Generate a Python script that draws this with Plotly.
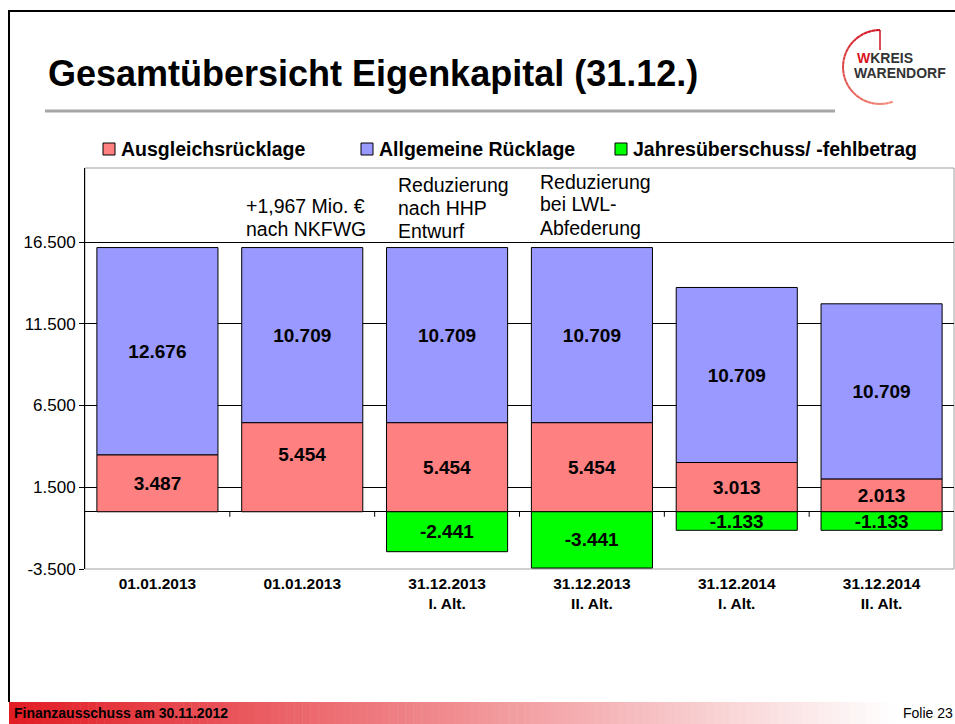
import math
import plotly.graph_objects as go

# ---------------- data ----------------
categories = ["01.01.2013", "01.01.2013", "31.12.2013<br>I. Alt.", "31.12.2013<br>II. Alt.",
              "31.12.2014<br>I. Alt.", "31.12.2014<br>II. Alt."]
ausgleichsruecklage = [3487, 5454, 5454, 5454, 3013, 2013]
allgemeine_ruecklage = [12676, 10709, 10709, 10709, 10709, 10709]
jahresergebnis = [None, None, -2441, -3441, -1133, -1133]
series_names = ["Ausgleichsrücklage", "Allgemeine Rücklage", "Jahresüberschuss/ -fehlbetrag"]
y_tick_values = [-3500, 1500, 6500, 11500, 16500]
notes = [[], ["+1,967 Mio. €", "nach NKFWG"], ["Reduzierung", "nach HHP", "Entwurf"],
         ["Reduzierung", "bei LWL-", "Abfederung"], [], []]
title_text = "Gesamtübersicht Eigenkapital (31.12.)"
footer_left = "Finanzausschuss am 30.11.2012"
footer_right = "Folie 23"

# ---------------- style ----------------
FONT = "Liberation Sans, Arial, sans-serif"
colors = ["#FF8080", "#9999FF", "#00FF00"]
W, H = 955, 724
L, R, T, B = 85, 1, 168, H - 569
BAR_W = 0.836
# note text: left shift from bar edge, and pixel heights of line centres above bar top
note_xshift = [0, 2, 9, 7, 0, 0]
note_line_up = [[], [42, 19], [63, 40, 17], [66, 44, 20], [], []]
# labels that sit a little above the segment centre in the original (per series, per bar)
label_raised = [[False, True, False, False, False, False], [False] * 6, [False] * 6]


def de(v):
    return f"{v:,}".replace(",", ".")


def PX(x):  # screen px -> paper
    return (x - L) / (W - L - R)


def PY(y):
    return (H - B - y) / (H - T - B)


xs = list(range(len(categories)))
fig = go.Figure()
for k, (name, vals, col) in enumerate(zip(series_names,
                                          [ausgleichsruecklage, allgemeine_ruecklage, jahresergebnis], colors)):
    labels = []
    for j, v in enumerate(vals):
        if v is None:
            labels.append("")
        else:
            labels.append(de(v) + ("<br> " if label_raised[k][j] else ""))
    fig.add_trace(go.Bar(
        x=xs, y=vals, name=name, width=BAR_W,
        marker=dict(color=col, line=dict(color="#000000", width=1)),
        text=labels,
        textposition="inside", insidetextanchor="middle", textangle=0,
        textfont=dict(family=FONT, size=19, color="black", weight="bold"),
        showlegend=False,
    ))

shapes = []
annotations = []

# plot frame
shapes.append(dict(type="rect", xref="paper", yref="paper", x0=0, x1=1, y0=0, y1=1,
                   line=dict(color="#a0a0a0", width=1), layer="below"))
# tick marks on the zero line at category boundaries
for b in xs[:-1]:
    shapes.append(dict(type="line", xref="x", yref="y", x0=b + 0.5, x1=b + 0.5,
                       ysizemode="pixel", yanchor=0, y0=0, y1=-5,
                       line=dict(color="black", width=1)))

# slide border
shapes.append(dict(type="line", xref="paper", yref="paper", x0=PX(8), x1=PX(960), y0=PY(11), y1=PY(11),
                   line=dict(color="black", width=2)))
shapes.append(dict(type="line", xref="paper", yref="paper", x0=PX(9), x1=PX(9), y0=PY(11), y1=PY(702),
                   line=dict(color="black", width=2)))
# title underline
shapes.append(dict(type="line", xref="paper", yref="paper", x0=PX(45), x1=PX(835), y0=PY(111), y1=PY(111),
                   line=dict(color="#a6a6a6", width=3)))

# footer gradient bar
n = 120
x_start, x_end = 9, 960
for i in range(n):
    x0 = x_start + (x_end - x_start) * i / n
    x1 = x_start + (x_end - x_start) * (i + 1) / n + 0.5
    f = min(1.0, (i + 0.5) / n / 0.93)
    r = int(226 + (255 - 226) * f)
    g = int(28 + (255 - 28) * f)
    bl = int(36 + (255 - 36) * f)
    shapes.append(dict(type="rect", xref="paper", yref="paper", x0=PX(x0), x1=PX(x1), y0=PY(726), y1=PY(702),
                       fillcolor=f"rgb({r},{g},{bl})", line=dict(width=0), layer="below"))

# logo arc
cx, cy, rad = 880, 67, 37
m = 30
a_start, a_end = -90, -290
for i in range(m):
    t0 = math.radians(a_start + (a_end - a_start) * i / m)
    t1 = math.radians(a_start + (a_end - a_start) * (i + 1) / m)
    f = i / (m - 1)
    r = int(208 + (240 - 208) * f)
    g = int(16 + (140 - 16) * f)
    bl = int(32 + (120 - 32) * f)
    shapes.append(dict(type="line", xref="paper", yref="paper",
                       x0=PX(cx + rad * math.cos(t0)), y0=PY(cy + rad * math.sin(t0)),
                       x1=PX(cx + rad * math.cos(t1)), y1=PY(cy + rad * math.sin(t1)),
                       line=dict(color=f"rgb({r},{g},{bl})", width=2)))
shapes.append(dict(type="line", xref="paper", yref="paper", x0=PX(880), x1=PX(880), y0=PY(30), y1=PY(50),
                   line=dict(color="rgb(208,16,32)", width=1.5)))

annotations.append(dict(xref="paper", yref="paper", x=PX(855), y=PY(58), xanchor="left", yanchor="middle",
                        text="<span style='color:#d7141e'>W</span>KREIS", showarrow=False,
                        font=dict(family=FONT, size=14, color="#333333", weight="bold")))
annotations.append(dict(xref="paper", yref="paper", x=PX(852), y=PY(73), xanchor="left", yanchor="middle",
                        text="WARENDORF", showarrow=False,
                        font=dict(family=FONT, size=14, color="#333333", weight="bold")))

# title
annotations.append(dict(xref="paper", yref="paper", x=PX(46), y=PY(74), xanchor="left", yanchor="middle",
                        text=title_text, showarrow=False,
                        font=dict(family=FONT, size=36, color="black", weight="bold")))

# legend (manual)
leg_sq_x = [103, 361, 615]
leg_txt_x = [119, 377, 631]
for i, name in enumerate(series_names):
    shapes.append(dict(type="rect", xref="paper", yref="paper", x0=PX(leg_sq_x[i]), x1=PX(leg_sq_x[i] + 12),
                       y0=PY(155), y1=PY(143), fillcolor=colors[i], line=dict(color="#000000", width=1)))
    annotations.append(dict(xref="paper", yref="paper", x=PX(leg_txt_x[i]), y=PY(149), xanchor="left",
                            yanchor="middle", text=name, showarrow=False,
                            font=dict(family=FONT, size=19.5, color="black", weight="bold")))

# notes above bars
for i, lines in enumerate(notes):
    for line, up in zip(lines, note_line_up[i]):
        annotations.append(dict(xref="x", yref="y", x=xs[i] - BAR_W / 2,
                                y=ausgleichsruecklage[i] + allgemeine_ruecklage[i],
                                xanchor="left", yanchor="middle", align="left", text=line, showarrow=False,
                                xshift=note_xshift[i], yshift=up,
                                font=dict(family=FONT, size=19.5, color="black")))

# footer text
annotations.append(dict(xref="paper", yref="paper", x=PX(12), y=PY(713), xanchor="left", yanchor="middle",
                        text=footer_left, showarrow=False,
                        font=dict(family=FONT, size=14, color="black", weight="bold")))
annotations.append(dict(xref="paper", yref="paper", x=PX(901), y=PY(713), xanchor="left", yanchor="middle",
                        text=footer_right, showarrow=False,
                        font=dict(family=FONT, size=14, color="black")))

fig.update_layout(
    width=W, height=H,
    margin=dict(l=L, r=R, t=T, b=B, pad=0),
    paper_bgcolor="white", plot_bgcolor="white",
    barmode="relative", bargap=1 - BAR_W,
    uniformtext=dict(minsize=19, mode="show"),
    showlegend=False,
    font=dict(family=FONT, color="black"),
    shapes=shapes, annotations=annotations,
    xaxis=dict(range=[-0.5, len(xs) - 0.5], tickmode="array", tickvals=xs, ticktext=categories,
               showgrid=False, zeroline=False, showline=False, ticks="", automargin=False,
               ticklabelstandoff=3,
               tickfont=dict(family=FONT, size=15.5, color="black", weight="bold"), fixedrange=True),
    yaxis=dict(range=[-3500, 21030], tickmode="array", tickvals=y_tick_values,
               ticktext=[de(v) for v in y_tick_values],
               showgrid=True, gridcolor="black", gridwidth=1,
               zeroline=True, zerolinecolor="black", zerolinewidth=1,
               showline=True, linecolor="black", linewidth=1,
               ticks="outside", ticklen=5, tickcolor="black", automargin=False,
               tickfont=dict(family=FONT, size=17, color="black"), fixedrange=True),
)

fig.write_html("out.html", config={"displayModeBar": False},
               post_script="document.body.style.margin='0';document.body.style.overflow='hidden';")
